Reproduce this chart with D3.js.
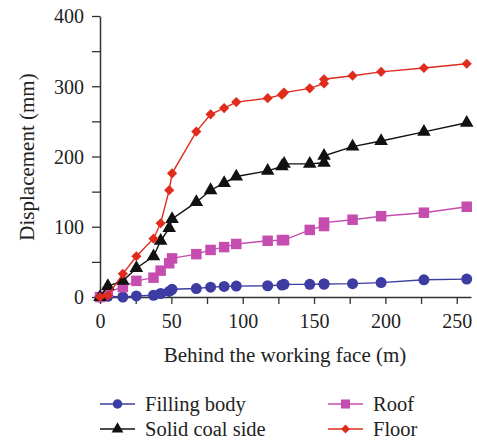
<!DOCTYPE html>
<html>
<head>
<meta charset="utf-8">
<script src="https://cdn.jsdelivr.net/npm/d3@7"></script>
<style>
  body { margin: 0; background: #fff; }
  svg text { font-family: "Liberation Serif", "Times New Roman", serif; fill: #222; }
</style>
</head>
<body>
<svg width="477" height="440"></svg>
<script>
// data
var distance = [0, 5.5, 16, 25.5, 37.5, 42.5, 48.5, 50.5, 67.5, 77.5, 87, 95.5, 117.5, 127.5, 129, 147, 157, 157, 177, 197, 227, 257];
var fillingBody = [0, 1, 0, 1.5, 2.5, 5, 8, 11, 12, 14, 15, 15.5, 16, 17, 18, 18, 18.5, 18.5, 19, 20.5, 24.5, 25.5];
var roof = [0, 7, 14, 23, 27.5, 37.5, 48, 55, 61, 67, 71, 75.5, 80, 81, 81, 95.5, 101, 106, 110, 115, 120, 128.5];
var solidCoal = [0, 15.5, 23, 41, 58, 80, 98, 111, 135, 152, 162, 171.5, 179.5, 186, 189.5, 189.5, 191, 201, 214, 222, 235, 248];
var floor = [0, 2, 33, 58, 83, 105, 152, 176, 235.5, 260, 269, 277.5, 283, 288, 291, 297, 304, 310, 315, 320.5, 326, 332];

var xTicks = d3.range(0, 251, 25);
var yTicks = d3.range(0, 401, 50);

var series = [
  { name: "Filling body", values: fillingBody, color: "#3c3ca2", shape: d3.symbolCircle, size: 95, rot: 0 },
  { name: "Roof", values: roof, color: "#c64db0", shape: d3.symbolSquare, size: 110, rot: 0 },
  { name: "Solid coal side", values: solidCoal, color: "#111111", shape: d3.symbolTriangle, size: 80, rot: 0 },
  { name: "Floor", values: floor, color: "#e02c1c", shape: d3.symbolSquare, size: 52, rot: 45 }
];

var svg = d3.select("svg");
var x = d3.scaleLinear().domain([0, 260]).range([100, 471]);
var y = d3.scaleLinear().domain([0, 400]).range([297, 16]);

// axes
var gx = svg.append("g")
  .attr("transform", "translate(0,297)")
  .call(d3.axisBottom(x).tickValues(xTicks).tickSize(7).tickSizeOuter(0)
    .tickFormat(function(d) { return d % 50 == 0 ? d : ""; }));
var gy = svg.append("g")
  .attr("transform", "translate(100,0)")
  .call(d3.axisLeft(y).tickValues(yTicks).tickSize(8).tickSizeOuter(0)
    .tickFormat(function(d) { return d % 100 == 0 ? d : ""; }));

gx.attr("font-family", null).attr("font-size", null);
gy.attr("font-family", null).attr("font-size", null);
svg.selectAll(".domain").attr("stroke", "#333").attr("stroke-width", 1.5);
svg.selectAll(".tick line").attr("stroke", "#333").attr("stroke-width", 1.3);
svg.selectAll(".tick text").style("font-size", "20px").attr("fill", "#222");
gx.selectAll(".tick text").attr("y", 0).attr("dy", null)
  .attr("transform", "translate(0,31)");
gy.selectAll(".tick text").attr("x", -16).attr("dy", "0.34em");

// axis titles
svg.append("text")
  .attr("x", 285).attr("y", 362)
  .attr("text-anchor", "middle")
  .style("font-size", "21px")
  .text("Behind the working face (m)");

svg.append("text")
  .attr("transform", "translate(34,157) rotate(-90)")
  .attr("text-anchor", "middle")
  .style("font-size", "21px")
  .text("Displacement (mm)");

// lines and markers
var line = d3.line()
  .x(function(d, i) { return x(distance[i]); })
  .y(function(d) { return y(d); });

series.forEach(function(s) {
  svg.append("path")
    .datum(s.values)
    .attr("fill", "none")
    .attr("stroke", s.color)
    .attr("stroke-width", 1.4)
    .attr("d", line);
  svg.selectAll(null)
    .data(s.values)
    .enter().append("path")
    .attr("transform", function(d, i) {
      return "translate(" + x(distance[i]) + "," + y(d) + ") rotate(" + s.rot + ")";
    })
    .attr("d", d3.symbol().type(s.shape).size(s.size))
    .attr("fill", s.color);
});

// legend
var legendPos = [
  { s: series[0], lx: 100, ly: 404 },
  { s: series[2], lx: 100, ly: 429 },
  { s: series[1], lx: 328, ly: 404 },
  { s: series[3], lx: 328, ly: 429 }
];
legendPos.forEach(function(p) {
  var g = svg.append("g").attr("transform", "translate(" + p.lx + "," + p.ly + ")");
  g.append("line").attr("x1", 0).attr("x2", 35).attr("y1", 0).attr("y2", 0)
    .attr("stroke", p.s.color).attr("stroke-width", 1.4);
  g.append("path").attr("transform", "translate(17.5,0) rotate(" + p.s.rot + ")")
    .attr("d", d3.symbol().type(p.s.shape).size(p.s.size * 0.75))
    .attr("fill", p.s.color);
  g.append("text").attr("x", 45).attr("y", 6.5)
    .style("font-size", "20.5px")
    .text(p.s.name);
});
</script>
</body>
</html>
